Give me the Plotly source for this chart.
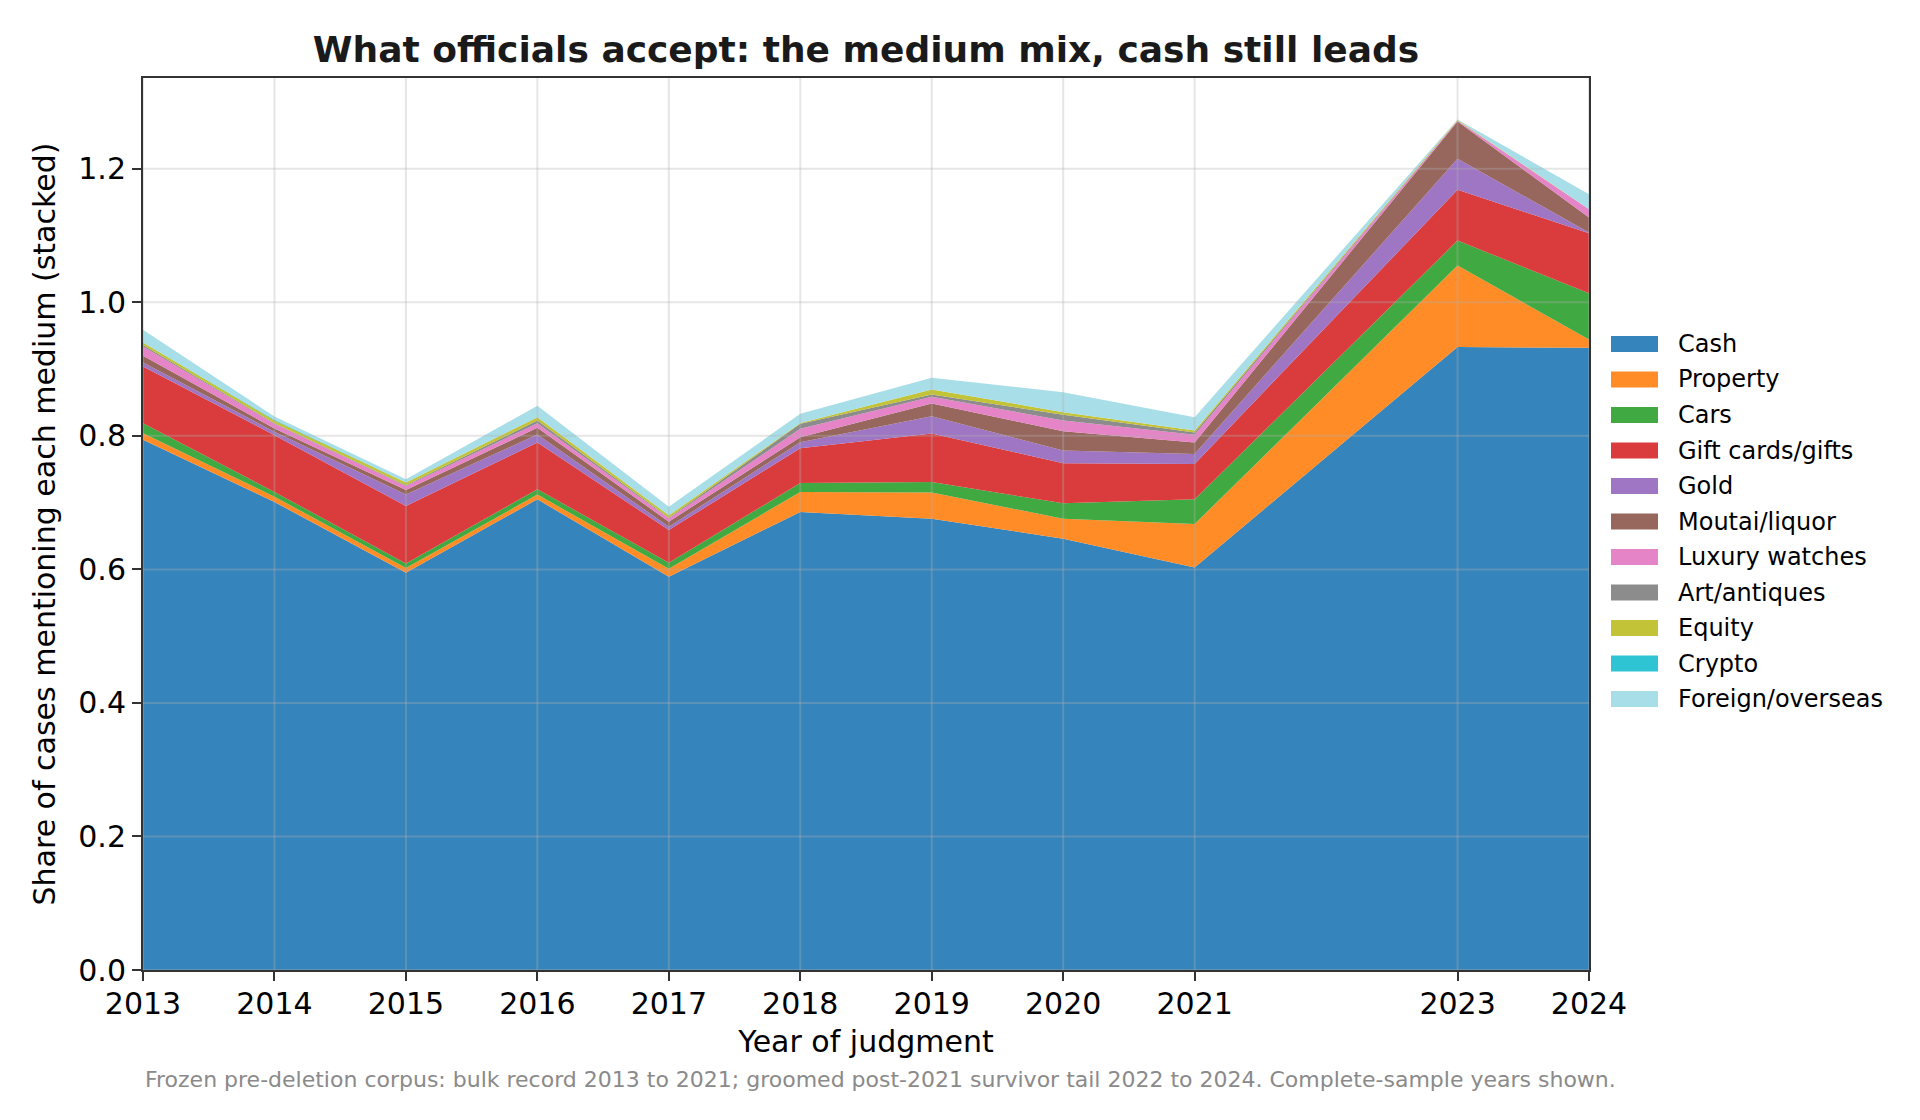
import plotly.graph_objects as go

years = [2013, 2014, 2015, 2016, 2017, 2018, 2019, 2020, 2021, 2023, 2024]
tick_years = [2013, 2014, 2015, 2016, 2017, 2018, 2019, 2020, 2021, 2023, 2024]
y_ticks = [0.0, 0.2, 0.4, 0.6, 0.8, 1.0, 1.2]

cash = [0.794, 0.701, 0.595, 0.705, 0.589, 0.686, 0.676, 0.646, 0.603, 0.933, 0.932]
property_ = [0.010, 0.008, 0.007, 0.007, 0.012, 0.030, 0.039, 0.030, 0.065, 0.122, 0.0125]
cars = [0.015, 0.007, 0.007, 0.008, 0.009, 0.0135, 0.016, 0.023, 0.037, 0.0375, 0.069]
gifts = [0.085, 0.085, 0.086, 0.070, 0.049, 0.052, 0.0725, 0.060, 0.053, 0.076, 0.090]
gold = [0.006, 0.005, 0.017, 0.012, 0.005, 0.009, 0.026, 0.019, 0.015, 0.0465, 0.001]
moutai = [0.010, 0.005, 0.007, 0.010, 0.0075, 0.0075, 0.019, 0.029, 0.017, 0.056, 0.0225]
watches = [0.014, 0.007, 0.006, 0.007, 0.005, 0.0125, 0.010, 0.016, 0.0115, 0.001, 0.0125]
art = [0.002, 0.001, 0.001, 0.004, 0.001, 0.0076, 0.0036, 0.0085, 0.0035, 0.0, 0.0]
equity = [0.004, 0.004, 0.004, 0.005, 0.0035, 0.001, 0.0075, 0.004, 0.003, 0.001, 0.0]
crypto = [0.0, 0.001, 0.0, 0.0, 0.0, 0.0, 0.0, 0.0, 0.0, 0.0, 0.0]
foreign = [0.019, 0.005, 0.005, 0.017, 0.013, 0.014, 0.0174, 0.030, 0.020, 0.001, 0.0225]

series_names = ["Cash", "Property", "Cars", "Gift cards/gifts", "Gold", "Moutai/liquor",
                "Luxury watches", "Art/antiques", "Equity", "Crypto", "Foreign/overseas"]
series_values = [cash, property_, cars, gifts, gold, moutai, watches, art, equity, crypto, foreign]
colors = ["31,119,180", "255,127,14", "44,160,44", "214,39,40", "148,103,189", "140,86,75",
          "227,119,194", "127,127,127", "188,189,34", "23,190,207", "158,218,229"]

FONT = "DejaVu Sans"

# plot-area geometry in page pixels (page = figure offset by the 8px body margin)
PL, PR, PT, PB = 143, 1589, 78, 970
PW, PH = PR - PL, PB - PT


def px_x(X):
    return (X - PL) / PW


def px_y(Y):
    return (PB - Y) / PH


fig = go.Figure()
for name, vals, col in zip(series_names, series_values, colors):
    fig.add_trace(go.Scatter(
        x=years, y=vals, name=name, stackgroup="one", mode="none",
        fillcolor=f"rgba({col},0.9)", showlegend=False,
    ))

grid_col = "rgba(176,176,176,0.32)"
shapes = []
for t in tick_years:
    shapes.append(dict(type="line", xref="x", yref="y domain", x0=t, x1=t, y0=0, y1=1,
                       line=dict(color=grid_col, width=2), layer="above"))
for t in y_ticks:
    shapes.append(dict(type="line", xref="x domain", yref="y", x0=0, x1=1, y0=t, y1=t,
                       line=dict(color=grid_col, width=2), layer="above"))

# legend drawn as swatches + labels to the right of the axes
annotations = []
for i, (name, col) in enumerate(zip(series_names, colors)):
    yc = 344 + 35.5 * i
    shapes.append(dict(type="rect", xref="paper", yref="paper",
                       x0=px_x(1611), x1=px_x(1658), y0=px_y(yc + 8), y1=px_y(yc - 8),
                       fillcolor=f"rgba({col},0.9)", line=dict(width=0), layer="above"))
    annotations.append(dict(text=name, xref="paper", yref="paper", x=px_x(1676), y=px_y(yc),
                            xanchor="left", yanchor="middle", showarrow=False,
                            font=dict(family=FONT, size=24, color="black")))

annotations.append(dict(text="Frozen pre-deletion corpus: bulk record 2013 to 2021; groomed post-2021 survivor tail 2022 to 2024. Complete-sample years shown.",
                        xref="paper", yref="paper", x=0, y=px_y(1079),
                        xanchor="left", yanchor="middle", showarrow=False,
                        font=dict(family=FONT, size=22, color="#8a8a8a")))

fig.update_layout(
    width=1920, height=1120,
    margin=dict(l=PL - 8, r=1920 - PR + 8, t=PT - 8, b=1120 - PB + 8),
    paper_bgcolor="white", plot_bgcolor="white",
    font=dict(family=FONT, color="black"),
    shapes=shapes,
    annotations=annotations,
    showlegend=False,
    title=dict(text="What officials accept: the medium mix, cash still leads",
               font=dict(family=FONT, size=36, weight="bold", color="#1a1a1a"),
               x=0.5, xref="paper", xanchor="center",
               y=1 - 41 / 1120, yref="container", yanchor="middle"),
    xaxis=dict(range=[2013, 2024], tickmode="array", tickvals=tick_years,
               ticktext=[str(t) for t in tick_years],
               showgrid=False, zeroline=False,
               showline=True, mirror=True, linecolor="#333333", linewidth=2,
               ticks="outside", ticklen=9, tickwidth=2, tickcolor="#333333",
               tickfont=dict(family=FONT, size=30, color="black"),
               ticklabelstandoff=-3,
               title=dict(text="Year of judgment", font=dict(family=FONT, size=30), standoff=11)),
    yaxis=dict(range=[0, 1.336], tickmode="array", tickvals=y_ticks,
               ticktext=[f"{t:.1f}" for t in y_ticks],
               showgrid=False, zeroline=False,
               showline=True, mirror=True, linecolor="#333333", linewidth=2,
               ticks="outside", ticklen=9, tickwidth=2, tickcolor="#333333",
               tickfont=dict(family=FONT, size=30, color="black"),
               ticklabelstandoff=0,
               title=dict(text="Share of cases mentioning each medium (stacked)",
                          font=dict(family=FONT, size=30), standoff=14)),
)

fig.write_html("out.html")
